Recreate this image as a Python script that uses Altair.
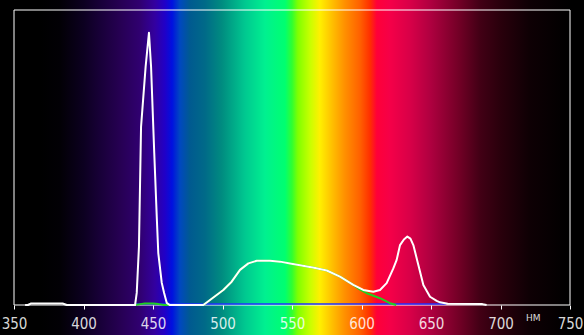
import altair as alt
import pandas as pd

# ---- spectrum background colour stops (wavelength nm, colour) ----
grad_nm = [350, 369, 383, 400, 412, 426, 440.6, 451.4, 458.6, 463.7, 469.4, 476.6,
           487.4, 499.6, 516.2, 530.6, 545, 550, 554.3, 563, 570, 578.8, 588, 599,
           606, 611, 620.5, 634.9, 649.3, 670.9, 685.3, 699.6, 721, 742.8, 750]
grad_col = ["#000000", "#000000", "#020005", "#0c0020", "#180038", "#260052", "#300070",
            "#3300a0", "#2000c8", "#0010e0", "#0048c0", "#005a90", "#006a88", "#008c80",
            "#00c890", "#00f090", "#00ff70", "#30ff30", "#80ff00", "#c8ff00", "#fff000",
            "#ffc000", "#ff9000", "#ff6000", "#ff3000", "#ff0038", "#f50048", "#d80048",
            "#b00040", "#700025", "#420015", "#2a000c", "#0e0004", "#030001", "#000000"]

# ---- white spectrum curve ----
white_nm = [358, 360, 362, 385, 388, 437.1, 438.3, 439.9, 441.4, 444.7, 447.1, 448.6,
            450.9, 452.7, 453.8, 456.3, 458, 459.9, 462, 486.2, 491, 500.6, 506.6,
            512.6, 518.6, 524.6, 534.2, 541.4, 548.6, 555.8, 561.7, 565, 575, 584.5,
            594.1, 601.3, 608.5, 613.3, 618.1, 622.9, 625.3, 627.7, 630.5, 633, 635.2,
            637.3, 640.9, 644.5, 649.3, 654.1, 656.5, 662, 687, 690]
white_val = [0, 0, 0.005, 0.005, 0, 0, 0.041, 0.198, 0.604, 0.808, 0.923, 0.808,
             0.515, 0.299, 0.176, 0.075, 0.041, 0.007, 0, 0, 0.017, 0.051, 0.079,
             0.119, 0.141, 0.150, 0.150, 0.147, 0.141, 0.135, 0.130, 0.127, 0.117, 0.096,
             0.068, 0.051, 0.045, 0.051, 0.074, 0.124, 0.153, 0.203, 0.222, 0.232, 0.225,
             0.203, 0.136, 0.068, 0.028, 0.014, 0.009, 0.004, 0.003, 0]

# ---- green channel curve ----
green_nm = [437, 441, 444, 450, 454, 458, 486.2, 491, 500.6, 506.6, 512.6, 518.6, 524.6,
            534.2, 541.4, 548.6, 555.8, 561.7, 565, 575, 584.5, 594.1, 598, 603.8,
            613.3, 620.5, 625]
green_val = [0, 0.003, 0.005, 0.005, 0.003, 0, 0, 0.017, 0.051, 0.079, 0.119, 0.141, 0.150,
             0.150, 0.147, 0.141, 0.135, 0.130, 0.127, 0.117, 0.096, 0.068, 0.055, 0.040,
             0.023, 0.006, 0]

# ---- blue channel curve ----
blue_nm = [437, 460, 560, 661]
blue_val = [0.003, 0.003, 0.003, 0.003]

# ---- axis ----
tick_values = [350, 400, 450, 500, 550, 600, 650, 700, 750]
unit_label = ["НМ"]
unit_nm = [723.5]

x_min, x_max = 350, 750

xscale = alt.Scale(domain=[x_min, x_max], nice=False, zero=False)
yscale = alt.Scale(domain=[0, 1], nice=False, zero=True)
xaxis = alt.Axis(values=tick_values, title=None, domain=False, grid=False,
                 tickColor="white", tickSize=4, tickWidth=1,
                 labelColor="white", labelOpacity=0.85,
                 labelFont="Liberation Sans Narrow, DejaVu Sans Condensed, Roboto, sans-serif",
                 labelFontSize=15, labelPadding=7, labelFlush=False,
                 labelOverlap=False, format="d", zindex=2)

extent = pd.DataFrame({"x0": [x_min], "x1": [x_max], "y0": [0.0], "y1": [1.0]})

stops = [alt.GradientStop(color=c, offset=round((n - x_min) / (x_max - x_min), 4))
         for n, c in zip(grad_nm, grad_col)]

bg = alt.Chart(extent).mark_rect(
    fill=alt.Gradient(gradient="linear", stops=stops, x1=0, x2=1, y1=0, y2=0)
).encode(
    x=alt.X("x0:Q", scale=xscale, axis=xaxis),
    x2="x1:Q",
    y=alt.value(-10),
    y2=alt.value(325),
)

frame = alt.Chart(extent).mark_rect(filled=False, stroke="white", strokeWidth=1).encode(
    x=alt.X("x0:Q", scale=xscale, axis=xaxis),
    x2="x1:Q",
    y=alt.Y("y0:Q", scale=yscale, axis=None),
    y2="y1:Q",
)

def line_layer(nm, val, color, width):
    df = pd.DataFrame({"nm": nm, "v": val})
    return alt.Chart(df).mark_line(color=color, strokeWidth=width, interpolate="linear",
                                   strokeJoin="round").encode(
        x=alt.X("nm:Q", scale=xscale, axis=xaxis),
        y=alt.Y("v:Q", scale=yscale, axis=None),
    )

blue = line_layer(blue_nm, blue_val, "#2030ff", 1.5)
green = line_layer(green_nm, green_val, "#20d020", 2)
white = line_layer(white_nm, white_val, "white", 2)

unit = alt.Chart(pd.DataFrame({"nm": unit_nm, "t": unit_label})).mark_text(
    color="white", opacity=0.85, fontSize=9, font="DejaVu Sans", baseline="middle"
).encode(
    x=alt.X("nm:Q", scale=xscale, axis=xaxis),
    y=alt.value(308),
    text="t:N",
)

chart = alt.layer(bg, frame, blue, green, white, unit).properties(
    width=556, height=295,
    padding={"left": 14, "top": 10, "right": 14, "bottom": 30},
    autosize=alt.AutoSizeParams(type="none"),
    background="black",
).configure_view(stroke=None)

chart.save("out.html", embed_options={"renderer": "svg", "actions": False})
